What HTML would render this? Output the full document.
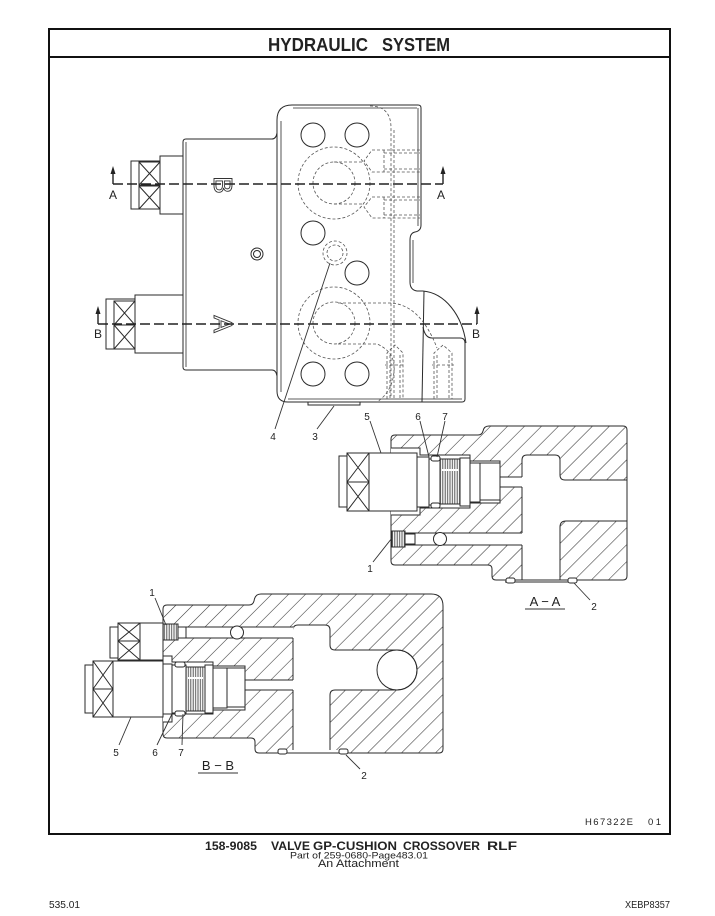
<!DOCTYPE html>
<html><head><meta charset="utf-8"><style>
html,body{margin:0;padding:0;background:#fff;}
svg{display:block;}
text{font-family:"Liberation Sans",sans-serif;fill:#222;}
</style></head><body>
<svg width="715" height="916" viewBox="0 0 715 916" xmlns="http://www.w3.org/2000/svg">
<defs>
<pattern id="hat" width="12" height="12" patternUnits="userSpaceOnUse" patternTransform="rotate(45)">
<rect width="12" height="12" fill="#fff"/>
<line x1="0" y1="0" x2="0" y2="12" stroke="#333" stroke-width="1.1"/>
</pattern>
<pattern id="thr" width="2.4" height="10" patternUnits="userSpaceOnUse">
<rect width="2.4" height="10" fill="#fff"/>
<line x1="1.2" y1="0" x2="1.2" y2="10" stroke="#555" stroke-width="1"/>
</pattern>
</defs>

<!-- frame -->
<rect x="49" y="29" width="621" height="805" fill="none" stroke="#111" stroke-width="2"/>
<line x1="49" y1="57" x2="670" y2="57" stroke="#111" stroke-width="2"/>
<text x="268" y="51" font-size="18" font-weight="bold" textLength="100" lengthAdjust="spacingAndGlyphs">HYDRAULIC</text>
<text x="382" y="51" font-size="18" font-weight="bold" textLength="68" lengthAdjust="spacingAndGlyphs">SYSTEM</text>

<!-- ================= MAIN VIEW ================= -->
<g fill="none" stroke="#2a2a2a" stroke-width="1">
  <!-- plate -->
  <path d="M292,105 L418,105 Q421,105 421,108 L421,225 Q421,231 415,232 Q410,233 410,240 L410,282 Q410,290 417,291 L423,291"/>
  <path d="M465,343 L465,399 Q465,402 462,402 L288,402 Q277,402 277,391 L277,120 Q277,105 292,105"/>
  <path d="M423,291 C445,293 462,315 466,343"/>
  <path d="M423,327 Q425,338 432,338 L460,338 Q465,338 465,343"/>
  <path d="M424,291 L422,402"/>
  <path d="M281,121 L281,392 M293,108 L417,108 M418,108 L418,226 M413,240 L413,283 M288,399 L462,399" stroke-width="0.8"/>
  <!-- body -->
  <path d="M272,139 L186,139 Q183,139 183,142 L183,367 Q183,370 186,370 L272,370 Q276,370 277,376"/>
  <path d="M272,139 Q276,139 277,133"/>
  <line x1="186" y1="142" x2="186" y2="367" stroke-width="0.8"/>
  <!-- solenoid A -->
  <rect x="160" y="156" width="23" height="58" fill="#fff"/>
  <rect x="131" y="161" width="29" height="48" fill="#fff"/>
  <rect x="139" y="162" width="21" height="23"/>
  <rect x="139" y="186" width="21" height="23"/>
  <path d="M139,162 L160,185 M160,162 L139,185 M139,186 L160,209 M160,186 L139,209"/>
  <!-- solenoid B -->
  <rect x="135" y="295" width="48" height="58" fill="#fff"/>
  <rect x="106" y="299" width="29" height="50" fill="#fff"/>
  <rect x="114" y="301" width="21" height="24"/>
  <rect x="114" y="325" width="21" height="24"/>
  <path d="M114,301 L135,325 M135,301 L114,325 M114,325 L135,349 M135,325 L114,349"/>
  <!-- plug -->
  <circle cx="257" cy="254" r="6"/>
  <circle cx="257" cy="254" r="3.5"/>
  <!-- solid holes -->
  <circle cx="313" cy="135" r="12"/>
  <circle cx="357" cy="135" r="12"/>
  <circle cx="313" cy="233" r="12"/>
  <circle cx="357" cy="273" r="12"/>
  <circle cx="313" cy="374" r="12"/>
  <circle cx="357" cy="374" r="12"/>
  <!-- part 3 -->
  <rect x="308" y="402" width="52" height="3"/>
</g>

<!-- hidden lines -->
<g fill="none" stroke="#555" stroke-width="0.8" stroke-dasharray="3,2">
  <circle cx="334" cy="183" r="36"/>
  <circle cx="334" cy="183" r="21"/>
  <circle cx="334" cy="323" r="36"/>
  <circle cx="334" cy="323" r="21"/>
  <circle cx="335" cy="253" r="12"/>
  <circle cx="335" cy="253" r="8"/>
  <path d="M370,106 Q391,106 391,128 L391,398"/>
  <path d="M394,130 L394,398"/>
  <!-- upper ports -->
  <path d="M420,150 L372,150 L364,161 L372,172 L420,172"/>
  <path d="M384,150 L384,172 M384,153 L420,153 M384,169 L420,169"/>
  <path d="M420,197 L372,197 L364,207 L372,218 L420,218"/>
  <path d="M384,197 L384,218 M384,200 L420,200 M384,215 L420,215"/>
  <path d="M334,162 L364,162 M334,204 L364,204"/>
  <!-- lower passages -->
  <path d="M338,303 L390,303 Q420,304 437,348"/>
  <path d="M338,344 L377,344 Q396,352 394,372 Q392,392 377,402"/>
  <path d="M387,399 L387,353 L395,345 L403,353 L403,399 M390,355 L390,399 M400,355 L400,399 M385,365 L405,365"/>
  <path d="M434,399 L434,353 L443,345 L452,353 L452,399 M437,355 L437,399 M449,355 L449,399 M432,365 L454,365"/>
</g>

<!-- rotated letters -->
<g transform="translate(223,185) rotate(90)">
  <text x="0" y="9" font-size="26" text-anchor="middle" fill="#fff" stroke="#333" stroke-width="0.9" style="fill:#fff">B</text>
</g>
<g transform="translate(223,324) rotate(90)">
  <text x="0" y="9" font-size="26" text-anchor="middle" fill="#fff" stroke="#333" stroke-width="0.9" style="fill:#fff">A</text>
</g>

<!-- section lines -->
<g stroke="#222" stroke-width="1.6" fill="none" stroke-dasharray="10,4">
  <line x1="113" y1="184" x2="443" y2="184"/>
  <line x1="98" y1="324" x2="477" y2="324"/>
</g>
<g stroke="#222" stroke-width="1.4">
  <line x1="113" y1="184" x2="113" y2="172"/>
  <line x1="443" y1="184" x2="443" y2="172"/>
  <line x1="98" y1="324" x2="98" y2="312"/>
  <line x1="477" y1="324" x2="477" y2="312"/>
</g>
<g fill="#222">
  <polygon points="110.5,174 113,166 115.5,174"/>
  <polygon points="440.5,174 443,166 445.5,174"/>
  <polygon points="95.5,314 98,306 100.5,314"/>
  <polygon points="474.5,314 477,306 479.5,314"/>
</g>
<g font-size="12" text-anchor="middle">
  <text x="113" y="199">A</text>
  <text x="441" y="199">A</text>
  <text x="98" y="338">B</text>
  <text x="476" y="338">B</text>
</g>

<!-- main view leaders -->
<g stroke="#333" stroke-width="0.9" fill="none">
  <line x1="275" y1="429" x2="330" y2="263"/>
  <line x1="317" y1="429" x2="334" y2="406"/>
</g>
<g font-size="10" text-anchor="middle">
  <text x="273" y="440">4</text>
  <text x="315" y="440">3</text>
</g>

<!-- ================= SECTION A-A ================= -->
<g stroke="#2a2a2a" stroke-width="1">
  <path fill="url(#hat)" d="M395,435 L478,435 Q482,435 483,431 Q484,426 489,426 L623,426 Q627,426 627,430 L627,576 Q627,580 623,580 L496,580 Q492,580 492,576 L492,569 Q492,565 488,565 L395,565 Q391,565 391,561 L391,439 Q391,435 395,435 Z"/>
  <path fill="#fff" d="M522,580 L522,460 Q522,455 527,455 L555,455 Q560,455 560,460 L560,475 Q560,480 565,480 L627,480 L627,521 L566,521 Q560,521 560,527 L560,580 Z"/>
  <path fill="#fff" d="M391,448 L420,448 L420,455 L470,455 L470,461 L500,461 L500,503 L470,503 L470,508 L420,508 L420,515 L391,515"/>
  <rect x="499" y="477" width="24" height="10" fill="#fff" stroke="none"/>
  <path d="M500,477 L522,477 M500,487 L522,487" fill="none"/>
  <rect x="391.5" y="533" width="131" height="12" fill="#fff" stroke="none"/>
  <path d="M405,533 L522,533 M405,545 L522,545" fill="none"/>
  <line x1="505" y1="582" x2="577" y2="582"/>
  <rect x="506" y="578" width="9" height="5" rx="2" fill="#fff"/>
  <rect x="568" y="578" width="9" height="5" rx="2" fill="#fff"/>
  <!-- cartridge -->
  <rect x="339" y="456" width="8" height="51" fill="#fff"/>
  <rect x="347" y="453" width="22" height="29" fill="#fff"/>
  <rect x="347" y="482" width="22" height="29" fill="#fff"/>
  <path d="M347,453 L369,482 M369,453 L347,482 M347,482 L369,511 M369,482 L347,511" fill="none"/>
  <rect x="369" y="453" width="48" height="58" fill="#fff"/>
  <rect x="417" y="457" width="12" height="50" fill="#fff"/>
  <rect x="429" y="459" width="11" height="46" fill="#fff"/>
  <rect x="431" y="456" width="9" height="5" rx="2" fill="#fff"/>
  <rect x="431" y="503" width="9" height="5" rx="2" fill="#fff"/>
  <rect x="440" y="459" width="20" height="45" fill="url(#thr)"/>
  <rect x="442" y="469" width="16" height="2" fill="#fff" stroke="none"/>
  <rect x="460" y="458" width="10" height="48" fill="#fff"/>
  <rect x="470" y="463" width="10" height="39" fill="#fff"/>
  <rect x="480" y="463" width="20" height="37" fill="#fff"/>
  <!-- plug 1 -->
  <rect x="392" y="531" width="13" height="16" fill="url(#thr)"/>
  <rect x="405" y="534" width="10" height="10" fill="#fff"/>
  <circle cx="440" cy="539" r="6.5" fill="#fff"/>
</g>
<g stroke="#333" stroke-width="0.9" fill="none">
  <line x1="370" y1="421" x2="381" y2="453"/>
  <line x1="420" y1="421" x2="429" y2="457"/>
  <line x1="445" y1="421" x2="437" y2="457"/>
  <line x1="373" y1="562" x2="392" y2="538"/>
  <line x1="590" y1="600" x2="574" y2="583"/>
  <line x1="525" y1="609" x2="565" y2="609"/>
</g>
<g font-size="10" text-anchor="middle">
  <text x="367" y="420">5</text>
  <text x="418" y="420">6</text>
  <text x="445" y="420">7</text>
  <text x="370" y="572">1</text>
  <text x="594" y="610">2</text>
</g>
<text x="545" y="606" font-size="13" text-anchor="middle">A − A</text>

<!-- ================= SECTION B-B ================= -->
<g stroke="#2a2a2a" stroke-width="1">
  <path fill="url(#hat)" d="M167,605 L249,605 Q253,605 254,601 Q255,594 261,594 L431,594 Q443,594 443,606 L443,749 Q443,753 439,753 L259,753 Q255,753 255,749 L255,742 Q255,738 251,738 L167,738 Q163,738 163,734 L163,609 Q163,605 167,605 Z"/>
  <path fill="#fff" d="M293,753 L293,630 Q293,625 298,625 L325,625 Q330,625 330,630 L330,645 Q330,650 335,650 L397,650 A20,20 0 0 1 397,690 L335,690 Q330,690 330,695 L330,753 Z"/>
  <circle cx="397" cy="670" r="20" fill="none"/>
  <rect x="244" y="680" width="50" height="10" fill="#fff" stroke="none"/>
  <path d="M245,680 L293,680 M245,690 L293,690" fill="none"/>
  <rect x="163.5" y="627" width="130" height="11" fill="#fff" stroke="none"/>
  <path d="M185,627 L293,627 M185,638 L293,638" fill="none"/>
  <path fill="#fff" d="M163,656 L172,656 L172,662 L213,662 L213,666 L245,666 L245,710 L213,710 L213,714 L172,714 L172,722 L163,722"/>
  <rect x="277" y="750" width="70" height="3" fill="#fff" stroke="none"/>
  <line x1="277" y1="753" x2="347" y2="753"/>
  <rect x="278" y="749" width="9" height="5" rx="2" fill="#fff"/>
  <rect x="339" y="749" width="9" height="5" rx="2" fill="#fff"/>
  <!-- upper cartridge -->
  <rect x="110" y="627" width="8" height="31" fill="#fff"/>
  <rect x="118" y="623" width="22" height="18" fill="#fff"/>
  <rect x="118" y="641" width="22" height="19" fill="#fff"/>
  <path d="M118,623 L140,641 M140,623 L118,641 M118,641 L140,660 M140,641 L118,660" fill="none"/>
  <rect x="140" y="623" width="23" height="37" fill="#fff"/>
  <rect x="163" y="624" width="15" height="16" fill="url(#thr)"/>
  <rect x="178" y="627" width="8" height="11" fill="#fff"/>
  <circle cx="237" cy="632.5" r="6.5" fill="#fff"/>
  <!-- lower cartridge -->
  <rect x="85" y="665" width="8" height="48" fill="#fff"/>
  <rect x="93" y="661" width="20" height="28" fill="#fff"/>
  <rect x="93" y="689" width="20" height="28" fill="#fff"/>
  <path d="M93,661 L113,689 M113,661 L93,689 M93,689 L113,717 M113,689 L93,717" fill="none"/>
  <rect x="113" y="661" width="50" height="56" fill="#fff"/>
  <rect x="163" y="664" width="9" height="50" fill="#fff"/>
  <rect x="172" y="665" width="14" height="48" fill="#fff"/>
  <rect x="175" y="662" width="10" height="5" rx="2" fill="#fff"/>
  <rect x="175" y="711" width="10" height="5" rx="2" fill="#fff"/>
  <rect x="186" y="667" width="19" height="44" fill="url(#thr)"/>
  <rect x="188" y="677" width="15" height="2" fill="#fff" stroke="none"/>
  <rect x="205" y="665" width="8" height="48" fill="#fff"/>
  <rect x="213" y="668" width="14" height="40" fill="#fff"/>
  <rect x="227" y="668" width="18" height="39" fill="#fff"/>
</g>
<g stroke="#333" stroke-width="0.9" fill="none">
  <line x1="155" y1="598" x2="166" y2="625"/>
  <line x1="119" y1="745" x2="131" y2="717"/>
  <line x1="157" y1="745" x2="172" y2="714"/>
  <line x1="182" y1="745" x2="183" y2="714"/>
  <line x1="360" y1="769" x2="346" y2="755"/>
  <line x1="198" y1="773" x2="238" y2="773"/>
</g>
<g font-size="10" text-anchor="middle">
  <text x="152" y="596">1</text>
  <text x="116" y="756">5</text>
  <text x="155" y="756">6</text>
  <text x="181" y="756">7</text>
  <text x="364" y="779">2</text>
</g>
<text x="218" y="770" font-size="13" text-anchor="middle">B − B</text>

<!-- frame bottom labels -->
<text x="585" y="825" font-size="9.5" textLength="48" lengthAdjust="spacing">H67322E</text>
<text x="648" y="825" font-size="9.5" textLength="13" lengthAdjust="spacing">01</text>

<!-- footer -->
<g font-weight="bold" font-size="12">
  <text x="205" y="850" textLength="52" lengthAdjust="spacingAndGlyphs">158-9085</text>
  <text x="271" y="850" textLength="39" lengthAdjust="spacingAndGlyphs">VALVE</text>
  <text x="313" y="850" textLength="84" lengthAdjust="spacingAndGlyphs">GP-CUSHION</text>
  <text x="403" y="850" textLength="77" lengthAdjust="spacingAndGlyphs">CROSSOVER</text>
  <text x="487" y="850" textLength="30" lengthAdjust="spacingAndGlyphs">RLF</text>
</g>
<text x="290" y="858.5" font-size="9.5" textLength="138" lengthAdjust="spacingAndGlyphs">Part of 259-0680-Page483.01</text>
<text x="318" y="867" font-size="11" textLength="81" lengthAdjust="spacingAndGlyphs">An Attachment</text>
<text x="49" y="908" font-size="10" textLength="31" lengthAdjust="spacingAndGlyphs">535.01</text>
<text x="625" y="908" font-size="10" textLength="45" lengthAdjust="spacingAndGlyphs">XEBP8357</text>
</svg>
</body></html>
